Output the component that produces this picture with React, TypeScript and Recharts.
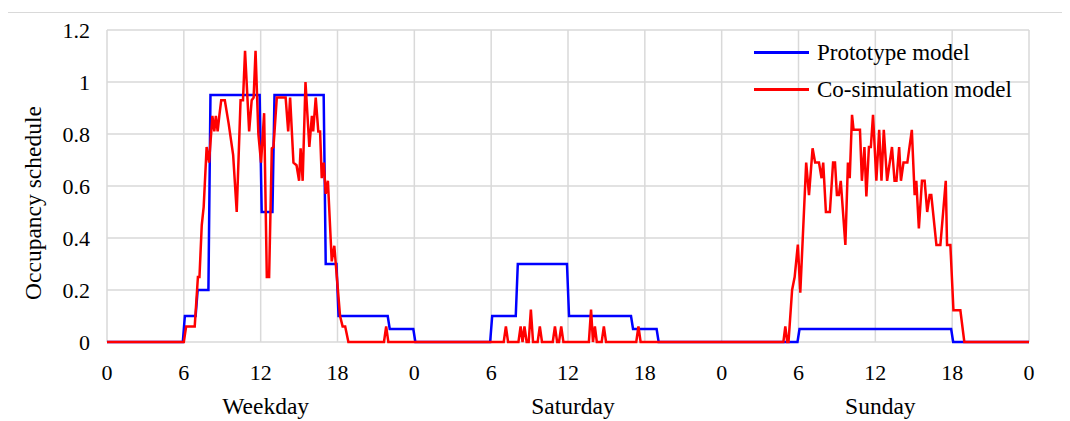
import React from 'react';
import { LineChart, Line, XAxis, YAxis, CartesianGrid, Legend } from 'recharts';

// ---- axis ticks / categories ----
const hourTicks = [0, 6, 12, 18, 24, 30, 36, 42, 48, 54, 60, 66, 72];
const dayNames = ['Weekday', 'Saturday', 'Sunday'];
const dayCenters = [12, 36, 60];
const yTicks = [0, 0.2, 0.4, 0.6, 0.8, 1, 1.2];
const seriesOrder = ['Prototype model', 'Co-simulation model'];

// ---- Prototype model: hourly schedule values (hour 0..23) ----
const protoWeekday = [0, 0, 0, 0, 0, 0, 0.1, 0.2, 0.95, 0.95, 0.95, 0.95, 0.5, 0.95, 0.95, 0.95, 0.95, 0.3, 0.1, 0.1, 0.1, 0.1, 0.05, 0.05];
const protoSaturday = [0, 0, 0, 0, 0, 0, 0.1, 0.1, 0.3, 0.3, 0.3, 0.3, 0.1, 0.1, 0.1, 0.1, 0.1, 0.05, 0.05, 0, 0, 0, 0, 0];
const protoSunday = [0, 0, 0, 0, 0, 0, 0.05, 0.05, 0.05, 0.05, 0.05, 0.05, 0.05, 0.05, 0.05, 0.05, 0.05, 0.05, 0, 0, 0, 0, 0, 0];

// ---- Co-simulation model: [hour of day, value] ----
const coSimWeekday = [
  [0, 0], [6.0, 0], [6.18, 0.06], [6.85, 0.06], [7.1, 0.25], [7.22, 0.25], [7.4, 0.45], [7.55, 0.52],
  [7.78, 0.75], [7.97, 0.69], [8.23, 0.87], [8.38, 0.81], [8.5, 0.87], [8.64, 0.81], [8.77, 0.87],
  [8.92, 0.93], [9.2, 0.93], [9.5, 0.84], [9.85, 0.72], [10.13, 0.5], [10.43, 0.93], [10.62, 0.93],
  [10.78, 1.12], [11.1, 0.81], [11.3, 0.93], [11.45, 0.94], [11.6, 1.12], [11.82, 0.8], [12.03, 0.69],
  [12.27, 0.88], [12.48, 0.25], [12.66, 0.25], [12.87, 0.745], [13.0, 0.75], [13.26, 0.94], [13.95, 0.94],
  [14.15, 0.81], [14.3, 0.94], [14.56, 0.69], [14.8, 0.68], [15.0, 0.62], [15.12, 0.745], [15.28, 0.62],
  [15.5, 1.0], [15.8, 0.75], [16.0, 0.87], [16.1, 0.81], [16.3, 0.94], [16.5, 0.81], [16.64, 0.81],
  [16.77, 0.63], [16.93, 0.69], [17.08, 0.57], [17.25, 0.62], [17.55, 0.31], [17.75, 0.37], [18.2, 0.1],
  [18.4, 0.06], [18.6, 0.06], [18.85, 0], [21.63, 0], [21.8, 0.06], [21.97, 0], [24, 0],
];
const coSimSaturday = [
  [0, 0], [6.98, 0], [7.15, 0.06], [7.32, 0], [8.13, 0], [8.3, 0.06], [8.45, 0], [8.6, 0.06], [8.77, 0],
  [8.93, 0], [9.1, 0.125], [9.27, 0], [9.63, 0], [9.8, 0.06], [9.97, 0], [10.81, 0], [10.98, 0.06],
  [11.15, 0], [11.3, 0], [11.47, 0.06], [11.64, 0], [13.63, 0], [13.8, 0.125], [13.95, 0], [14.1, 0.06],
  [14.25, 0], [14.63, 0], [14.8, 0.06], [14.97, 0], [17.33, 0], [17.5, 0.06], [17.67, 0], [24, 0],
];
const coSimSunday = [
  [0, 0], [4.82, 0], [4.97, 0.06], [5.12, 0], [5.22, 0], [5.5, 0.2], [5.7, 0.25], [5.95, 0.375],
  [6.14, 0.19], [6.6, 0.69], [6.82, 0.565], [7.1, 0.745], [7.3, 0.69], [7.6, 0.69], [7.8, 0.63],
  [7.93, 0.69], [8.14, 0.5], [8.45, 0.5], [8.7, 0.69], [8.85, 0.69], [9.0, 0.565], [9.15, 0.565],
  [9.3, 0.62], [9.66, 0.373], [9.86, 0.69], [10.0, 0.63], [10.18, 0.874], [10.3, 0.816], [10.8, 0.816],
  [10.95, 0.62], [11.15, 0.75], [11.3, 0.56], [11.5, 0.75], [11.65, 0.75], [11.82, 0.874], [12.08, 0.62],
  [12.3, 0.816], [12.48, 0.62], [12.66, 0.816], [12.92, 0.62], [13.3, 0.75], [13.5, 0.62], [13.65, 0.62],
  [13.86, 0.75], [14.0, 0.62], [14.2, 0.69], [14.5, 0.69], [14.85, 0.816], [15.07, 0.565], [15.2, 0.62],
  [15.4, 0.437], [15.64, 0.62], [15.85, 0.62], [16.05, 0.5], [16.24, 0.565], [16.37, 0.565],
  [16.77, 0.373], [17.08, 0.373], [17.5, 0.62], [17.6, 0.373], [17.86, 0.373], [18.1, 0.122],
  [18.64, 0.122], [18.95, 0], [24, 0],
];

// ---- build series data ----
const protoDays = [protoWeekday, protoSaturday, protoSunday];
const protoData: { h: number; v: number }[] = [];
protoDays.forEach((day, d) => {
  day.forEach((v, i) => {
    const start = d === 0 && i === 0 ? 0 : d * 24 + i + 0.08;
    const end = d === 2 && i === 23 ? 72 : d * 24 + i + 0.92;
    protoData.push({ h: start, v });
    protoData.push({ h: end, v });
  });
});

const coSimDays = [coSimWeekday, coSimSaturday, coSimSunday];
const coSimData: { h: number; v: number }[] = [];
coSimDays.forEach((day, d) => {
  day.forEach(([t, v]) => coSimData.push({ h: d * 24 + t, v }));
});

const FONT = 'Liberation Serif, Tinos, Times New Roman, DejaVu Serif, Noto Serif, serif';

const HourTick = (props: any) => {
  const { x, y, payload } = props;
  const v = payload.value as number;
  const di = dayCenters.indexOf(v);
  return (
    <g>
      <text x={x} y={y} dy="0.71em" textAnchor="middle" fontFamily={FONT} fontSize={22} fill="#000">
        {String(v % 24)}
      </text>
      {di >= 0 && (
        <text x={x + 5} y={y + 33} dy="0.71em" textAnchor="middle" fontFamily={FONT} fontSize={23.5} fill="#000">
          {dayNames[di]}
        </text>
      )}
    </g>
  );
};

const YLabel = (props: any) => {
  const vb = props.viewBox || { x: 0, y: 0, width: 0, height: 0 };
  const cx = vb.x + 25;
  const cy = vb.y + vb.height / 2 + 17;
  return (
    <text
      x={cx}
      y={cy}
      transform={`rotate(-90 ${cx} ${cy})`}
      textAnchor="middle"
      dominantBaseline="central"
      fontFamily={FONT}
      fontSize={23.5}
      fill="#000"
    >
      Occupancy schedule
    </text>
  );
};

const LegendContent = (props: any) => {
  const payload = [...(props.payload || [])].sort(
    (a: any, b: any) => seriesOrder.indexOf(a.value) - seriesOrder.indexOf(b.value)
  );
  return (
    <div style={{ fontFamily: FONT, fontSize: 23, color: '#000' }}>
      {payload.map((p: any) => (
        <div key={p.value} style={{ display: 'flex', alignItems: 'center', height: 37, whiteSpace: 'nowrap' }}>
          <span style={{ display: 'inline-block', width: 55, height: 2.5, background: p.color, marginRight: 8 }} />
          <span>{p.value}</span>
        </div>
      ))}
    </div>
  );
};

export default function App() {
  return (
    <div style={{ position: 'relative', width: 1062, height: 413 }}>
      <div
        style={{
          position: 'absolute',
          left: -1,
          top: 4,
          width: 1055,
          height: 430,
          borderTop: '1px solid #d9d9d9',
          borderLeft: '1px solid #d9d9d9',
          borderRight: '1px solid #d9d9d9',
          pointerEvents: 'none',
        }}
      />
      <LineChart width={1062} height={413} margin={{ top: 22, right: 41, left: 0, bottom: 0 }}>
        <CartesianGrid stroke="#d9d9d9" strokeWidth={1.5} />
        <XAxis
          dataKey="h"
          type="number"
          domain={[0, 72]}
          ticks={hourTicks}
          interval={0}
          height={79}
          tickLine={false}
          tickSize={0}
          tickMargin={22}
          axisLine={false}
          tick={<HourTick />}
        />
        <YAxis
          type="number"
          domain={[0, 1.2]}
          ticks={yTicks}
          interval={0}
          width={99}
          tickLine={false}
          axisLine={false}
          tickSize={0}
          tickMargin={17}
          tickFormatter={(v: number) => String(v)}
          tick={{ fontFamily: FONT, fontSize: 22, fill: '#000' }}
          label={<YLabel />}
        />
        <Legend
          layout="vertical"
          align="center"
          verticalAlign="middle"
          wrapperStyle={{ left: 746, top: 26, width: 320 }}
          content={<LegendContent />}
        />
        <Line
          data={protoData}
          dataKey="v"
          name="Prototype model"
          type="linear"
          stroke="#0000ff"
          strokeWidth={2.5}
          dot={false}
          activeDot={false}
          isAnimationActive={false}
        />
        <Line
          data={coSimData}
          dataKey="v"
          name="Co-simulation model"
          type="linear"
          stroke="#ff0000"
          strokeWidth={2.5}
          dot={false}
          activeDot={false}
          isAnimationActive={false}
        />
      </LineChart>
    </div>
  );
}
